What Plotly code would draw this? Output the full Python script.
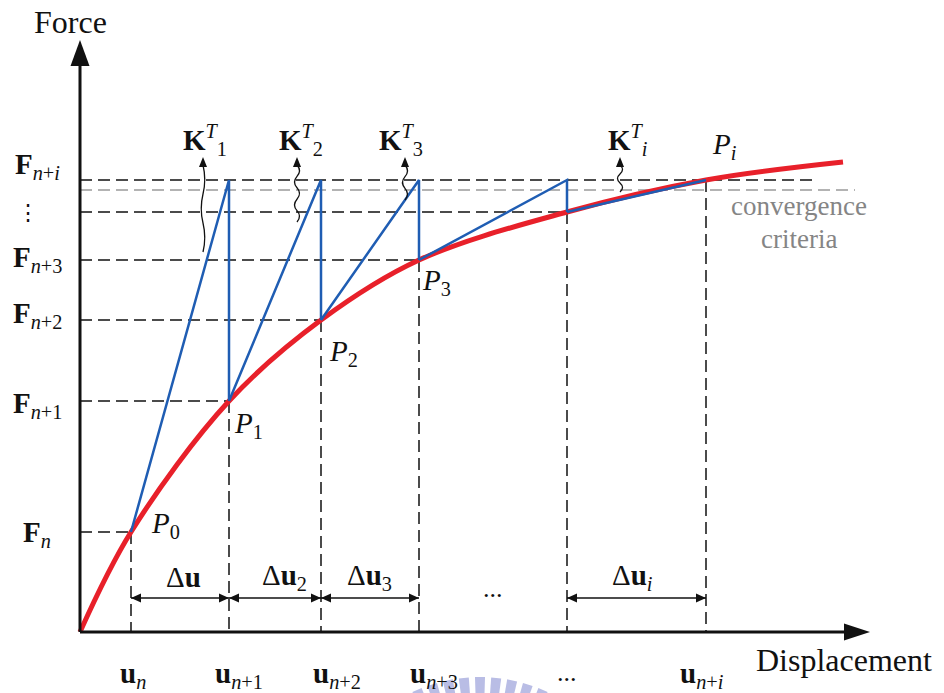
import math
import plotly.graph_objects as go

# ---- iteration states on the load-displacement response ----
# index 0 is the origin; 1..6 are u_n, u_n+1, u_n+2, u_n+3, ..., u_n+i
u_pts = [0, 51, 149, 241, 339, 487, 626]
f_pts = [0, 100, 231, 312, 372, 420, 452]

# red equilibrium path (extends past the converged point)
curve_u = [0, 51, 149, 241, 339, 487, 626, 763]
curve_f = [0, 100, 231, 312, 372, 420, 452, 470]

f_target = 452      # applied load level F_n+i
f_conv = 442        # convergence tolerance band

u_labels = ["<b>u</b><sub><i>n</i></sub>", "<b>u</b><sub><i>n</i>+1</sub>",
            "<b>u</b><sub><i>n</i>+2</sub>", "<b>u</b><sub><i>n</i>+3</sub>",
            "...", "<b>u</b><sub><i>n</i>+<i>i</i></sub>"]
f_labels = ["<b>F</b><sub><i>n</i></sub>", "<b>F</b><sub><i>n</i>+1</sub>",
            "<b>F</b><sub><i>n</i>+2</sub>", "<b>F</b><sub><i>n</i>+3</sub>",
            "<b>F</b><sub><i>n</i>+<i>i</i></sub>"]
p_labels = ["<i>P</i><sub>0</sub>", "<i>P</i><sub>1</sub>", "<i>P</i><sub>2</sub>",
            "<i>P</i><sub>3</sub>", "<i>P<sub>i</sub></i>"]
k_labels = ["<b>K</b><sup><i>T</i></sup><sub>1</sub>", "<b>K</b><sup><i>T</i></sup><sub>2</sub>",
            "<b>K</b><sup><i>T</i></sup><sub>3</sub>", "<b>K</b><sup><i>T</i></sup><sub><i>i</i></sub>"]
du_labels = ["\u0394<b>u</b>", "\u0394<b>u</b><sub>2</sub>", "\u0394<b>u</b><sub>3</sub>",
             "\u0394<b>u</b><sub><i>i</i></sub>"]

SERIF = "'Liberation Serif', 'Times New Roman', Times, 'DejaVu Serif', serif"
RED = "#e8202a"
BLUE = "#1f5db3"
INK = "#111111"

fig = go.Figure()

# ---- faint watermark rays (underneath everything) ----
wm_cx, wm_cy = 400, -205
for k in range(-5, 6):
    a0 = math.radians(90 + k * 5.8 - 1.8)
    a1 = math.radians(90 + k * 5.8 + 1.8)
    r0, r1 = 115, 160
    pts = [(wm_cx + r0 * math.cos(a0), wm_cy + r0 * math.sin(a0)),
           (wm_cx + r1 * math.cos(a0), wm_cy + r1 * math.sin(a0)),
           (wm_cx + r1 * math.cos(a1), wm_cy + r1 * math.sin(a1)),
           (wm_cx + r0 * math.cos(a1), wm_cy + r0 * math.sin(a1))]
    path = "M " + " L ".join(f"{x:.1f},{y:.1f}" for x, y in pts) + " Z"
    fig.add_shape(type="path", path=path, xref="x", yref="y", layer="below",
                  fillcolor="#b9bde5", line=dict(width=0))

# ---- dashed guide lines ----
gx, gy = [], []
for k in range(1, 7):
    x_end = 735 if k == 6 else u_pts[k]
    gx += [0, x_end, None, u_pts[k], u_pts[k], None]
    gy += [f_pts[k], f_pts[k], None, f_pts[k], 0, None]
fig.add_trace(go.Scatter(x=gx, y=gy, mode="lines", hoverinfo="skip",
                         line=dict(color=INK, width=1.5, dash="12px,6px")))
fig.add_trace(go.Scatter(x=[0, 775], y=[f_conv, f_conv], mode="lines", hoverinfo="skip",
                         line=dict(color="#9a9a9a", width=1.5, dash="12px,6px")))

# ---- equilibrium path ----
fig.add_trace(go.Scatter(x=curve_u, y=curve_f, mode="lines", hoverinfo="skip",
                         line=dict(color=RED, width=5, shape="spline", smoothing=1.0)))

# ---- Newton-Raphson predictor / corrector steps ----
bx, by = [], []
for k in range(1, 6):
    bx += [u_pts[k], u_pts[k + 1], u_pts[k + 1], None]
    by += [f_pts[k], f_target, f_pts[k + 1], None]
fig.add_trace(go.Scatter(x=bx, y=by, mode="lines", hoverinfo="skip",
                         line=dict(color=BLUE, width=2.5)))

# ---- coordinate axes ----
fig.add_trace(go.Scatter(x=[0, 770, None, 0, 0], y=[0, 0, None, 0, 572], mode="lines",
                         hoverinfo="skip", line=dict(color=INK, width=3)))


def tri(tip, base_a, base_b):
    return (f"M {tip[0]},{tip[1]} L {base_a[0]},{base_a[1]} "
            f"L {base_b[0]},{base_b[1]} Z")


fig.add_shape(type="path", path=tri((790, 0), (764, 8.5), (764, -8.5)),
              xref="x", yref="y", fillcolor=INK, line=dict(width=0))
fig.add_shape(type="path", path=tri((0, 592), (-9.5, 566), (9.5, 566)),
              xref="x", yref="y", fillcolor=INK, line=dict(width=0))

# ---- increment dimension arrows ----
dim_y = 34
spans = [(1, 2), (2, 3), (3, 4), (5, 6)]
dx_, dy_ = [], []
for a, b in spans:
    xa, xb = u_pts[a], u_pts[b]
    dx_ += [xa, xb, None]
    dy_ += [dim_y, dim_y, None]
    fig.add_shape(type="path", path=tri((xa, dim_y), (xa + 10, dim_y + 4.5), (xa + 10, dim_y - 4.5)),
                  xref="x", yref="y", fillcolor=INK, line=dict(width=0))
    fig.add_shape(type="path", path=tri((xb, dim_y), (xb - 10, dim_y + 4.5), (xb - 10, dim_y - 4.5)),
                  xref="x", yref="y", fillcolor=INK, line=dict(width=0))
fig.add_trace(go.Scatter(x=dx_, y=dy_, mode="lines", hoverinfo="skip",
                         line=dict(color=INK, width=1.5)))


# ---- wavy pointer arrows to the tangent stiffness labels ----
def wavy(x, y_tail, y_end, amp, halves):
    seg = (y_end - y_tail) / halves
    path = f"M {x},{y_tail}"
    for i in range(halves):
        ya = y_tail + seg * i
        yb = ya + seg
        cx = x + (amp if i % 2 == 0 else -amp)
        path += f" Q {cx},{(ya + yb) / 2} {x},{yb}"
    return path


k_arrow_x = [123, 217, 325, 540]
k_arrow_tail = [380, 410, 432, 440]
k_arrow_halves = [3, 5, 3, 3]
k_arrow_amp = [3.5, 5, 5, 5]
tip_y = 475
for xk, yt, h, amp in zip(k_arrow_x, k_arrow_tail, k_arrow_halves, k_arrow_amp):
    fig.add_shape(type="path", path=wavy(xk, yt, tip_y - 8, amp, h), xref="x", yref="y",
                  line=dict(color=INK, width=1.3))
    fig.add_shape(type="path", path=tri((xk, tip_y), (xk - 4, tip_y - 10), (xk + 4, tip_y - 10)),
                  xref="x", yref="y", fillcolor=INK, line=dict(width=0))

# ---- text ----
ann = []


def label(x, y, text, size=28, color=INK, xanchor="center", family=SERIF):
    ann.append(dict(x=x, y=y, xref="x", yref="y", text=text, showarrow=False,
                    xanchor=xanchor, yanchor="middle",
                    font=dict(family=family, size=size, color=color)))


label(-10, 610, "Force", size=32)
label(764, -28, "Displacement", size=32)

# displacement tick labels
u_label_dx = [2, 10, 16, 15, 0, -4]
for k, (txt, ddx) in enumerate(zip(u_labels, u_label_dx), start=1):
    if txt == "...":
        label(u_pts[k], -40, txt, size=26)
    else:
        label(u_pts[k] + ddx, -43, txt, size=29)

# force tick labels
f_label_lv = [f_pts[1], f_pts[2], f_pts[3], f_pts[4], f_target]
f_label_dy = [-2, -4, 5, 1, 14]
for txt, lv, ddy in zip(f_labels, f_label_lv, f_label_dy):
    label(-43, lv + ddy, txt, size=29)
label(-52, 420, "\u22ee", size=22, family="'DejaVu Serif', serif")

# iteration points
p_idx = [1, 2, 3, 4, 6]
p_off = [(34, 7), (19, -24), (22, -33), (17, -22), (18, 34)]
for txt, k, (ox, oy) in zip(p_labels, p_idx, p_off):
    label(u_pts[k] + ox, f_pts[k] + oy, txt, size=29)

# tangent stiffness labels
k_label_dx = [2, 4, -4, 8]
for txt, xk, ddx in zip(k_labels, k_arrow_x, k_label_dx):
    label(xk + ddx, 492, txt, size=29)

# increment labels
du_dx = [3, 9, -1, -4]
for txt, (a, b), ddx in zip(du_labels, spans, du_dx):
    label((u_pts[a] + u_pts[b]) / 2 + ddx, 55, txt, size=29)
label((u_pts[4] + u_pts[5]) / 2, 44, "...", size=26)

label(719, 426, "convergence", size=27, color="#858585")
label(719, 393, "criteria", size=27, color="#858585")

fig.update_layout(
    annotations=ann,
    width=944, height=693,
    margin=dict(l=0, r=0, t=0, b=0),
    paper_bgcolor="white", plot_bgcolor="white",
    showlegend=False,
    xaxis=dict(range=[-80, 864], visible=False, fixedrange=True),
    yaxis=dict(range=[-61, 632], visible=False, fixedrange=True),
)

fig.write_html("out.html", config={"displayModeBar": False})
